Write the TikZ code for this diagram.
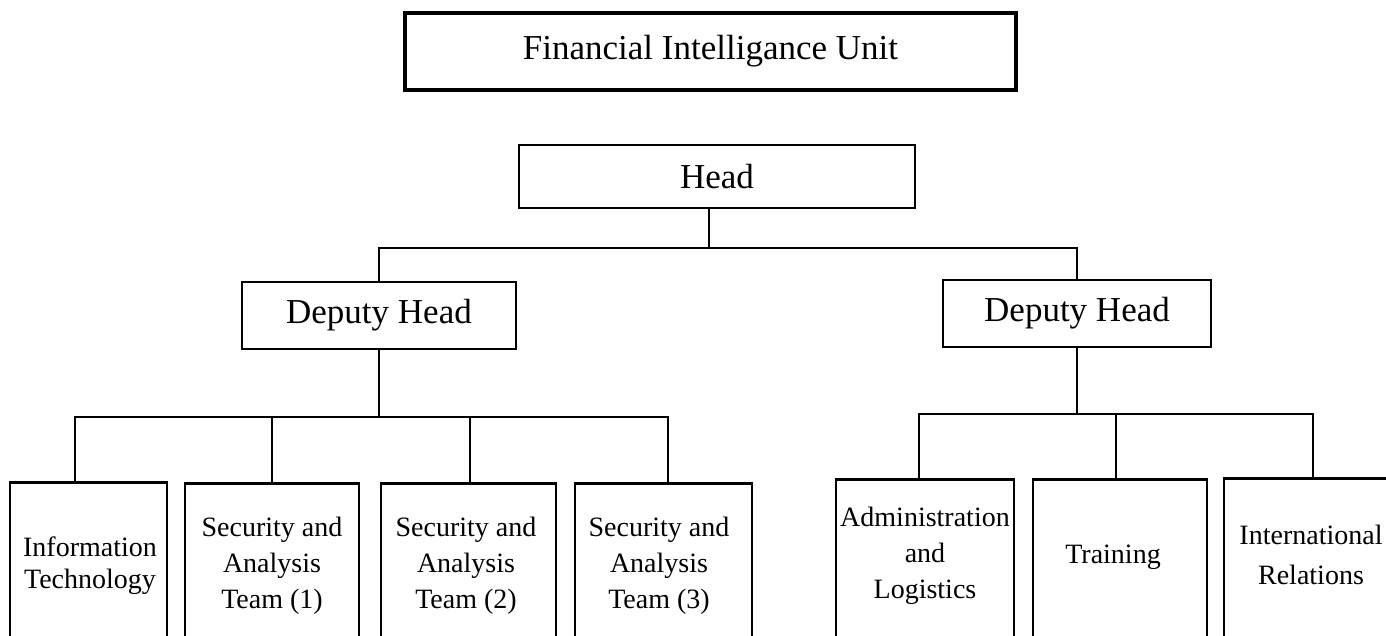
\documentclass[tikz,border=0pt]{standalone}
\usepackage{fontspec}
\setmainfont{Liberation Serif}
\begin{document}
\begin{tikzpicture}[x=1pt,y=-1pt,
  box/.style={draw=black, line width=2.8pt, inner sep=0pt, font=\fontsize{35}{42}\selectfont},
  unitbox/.style={draw=black, line width=2.8pt, inner sep=0pt, anchor=north, minimum height=260pt},
  lbl/.style={align=center, inner sep=0pt, font=\fontsize{28}{36}\selectfont},
  conn/.style={draw=black, line width=2.3pt}]
\useasboundingbox (0,0) rectangle (1386,636);

% upper boxes
\node[box, line width=3.4pt, minimum width=611pt, minimum height=77pt] (fiu) at (710.5,51.5) {Financial Intelligance Unit};
\node[box, minimum width=396pt, minimum height=63pt] (head) at (717,176.5) {Head};
\node[box, minimum width=274pt, minimum height=67pt] (dl) at (379,315.5) {Deputy Head};
\node[box, minimum width=268pt, minimum height=67pt] (dr) at (1077,313.5) {Deputy Head};

% lower boxes
\node[unitbox, minimum width=157pt] (it) at (88.5,481) {};
\node[unitbox, minimum width=174pt] (sa1) at (272,482) {};
\node[unitbox, minimum width=175pt] (sa2) at (468.5,482) {};
\node[unitbox, minimum width=177pt] (sa3) at (663.5,482) {};
\node[unitbox, minimum width=178pt] (adm) at (925,478) {};
\node[unitbox, minimum width=174pt] (trn) at (1120,478) {};
\node[unitbox, minimum width=178pt] (ir) at (1313,477) {};

% labels of lower boxes
\node[lbl, font=\fontsize{28}{32}\selectfont] (itt) at (90,566) {Information\\Technology};
\node[lbl] (sa1t) at (272,566) {Security and\\Analysis\\Team (1)};
\node[lbl] (sa2t) at (466,566) {Security and\\Analysis\\Team (2)};
\node[lbl] (sa3t) at (659,566) {Security and\\Analysis\\Team (3)};
\node[lbl] (admt) at (925,556) {Administration\\and\\Logistics};
\node[lbl] (trnt) at (1113,557) {Training};
\node[lbl, font=\fontsize{28}{40}\selectfont] (irt) at (1311,555) {International\\Relations};

% junctions
\coordinate (j1) at (709,248);
\coordinate (j2) at (379,417);
\coordinate (j3) at (1077,414);

% connectors
\draw[conn] ([xshift=-8pt]head.south) -- (j1);
\draw[conn] (dl.north) |- (j1) -| (dr.north);

\draw[conn] (dl.south) -- (j2);
\draw[conn] ([xshift=-13.5pt]it.north) |- (j2) -| ([xshift=4.5pt]sa3.north);
\draw[conn] (j2) -| (sa1.north);
\draw[conn] (j2) -| ([xshift=1.5pt]sa2.north);

\draw[conn] (dr.south) -- (j3);
\draw[conn] ([xshift=-6pt]adm.north) |- (j3) -| (ir.north);
\draw[conn] (j3) -| ([xshift=-4pt]trn.north);
\end{tikzpicture}
\end{document}
